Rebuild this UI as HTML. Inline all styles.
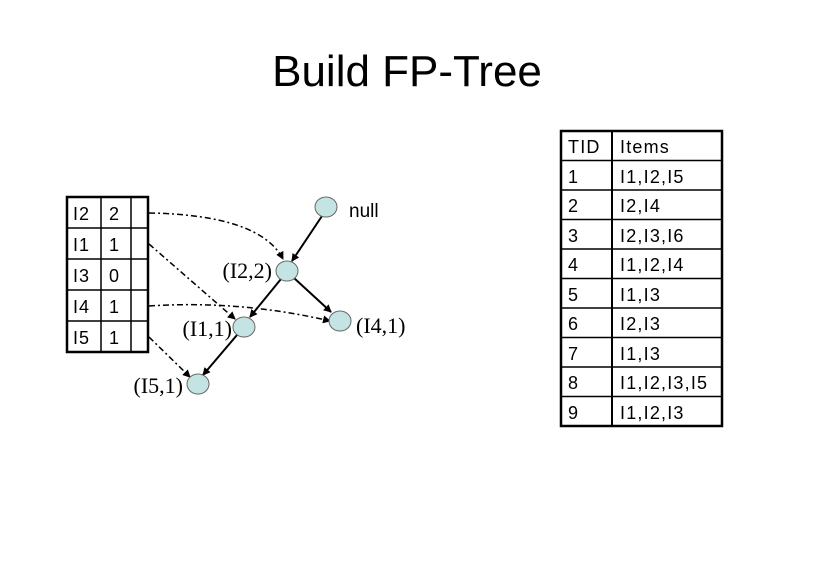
<!DOCTYPE html>
<html><head><meta charset="utf-8"><style>
body{margin:0;width:813px;height:566px;background:#fff;overflow:hidden}
svg{position:absolute;left:0;top:0}
</style></head><body>
<svg width="813" height="566" xmlns="http://www.w3.org/2000/svg" font-family="Liberation Sans, sans-serif">
<defs><marker id="a" markerWidth="8" markerHeight="8" refX="7" refY="4" orient="auto" markerUnits="userSpaceOnUse"><path d="M0,0 L8,4 L0,8 z" fill="#000"/></marker></defs>
<text x="407" y="86" font-size="44" text-anchor="middle">Build FP-Tree</text>
<g stroke="#000" fill="none">
<rect x="561" y="131" width="161" height="295" stroke-width="2.5"/>
<line x1="612" y1="131" x2="612" y2="426" stroke-width="2"/>
<g stroke-width="1.5">
<line x1="561" y1="160.5" x2="722" y2="160.5"/><line x1="561" y1="190" x2="722" y2="190"/>
<line x1="561" y1="219.5" x2="722" y2="219.5"/><line x1="561" y1="249" x2="722" y2="249"/>
<line x1="561" y1="278.5" x2="722" y2="278.5"/><line x1="561" y1="308" x2="722" y2="308"/>
<line x1="561" y1="337.5" x2="722" y2="337.5"/><line x1="561" y1="367" x2="722" y2="367"/>
<line x1="561" y1="396.5" x2="722" y2="396.5"/></g>
</g>
<g font-size="18" letter-spacing="1.2">
<text x="568" y="153">TID</text><text x="620" y="153">Items</text>
<text x="568" y="183">1</text><text x="620" y="183">I1,I2,I5</text>
<text x="568" y="212">2</text><text x="620" y="212">I2,I4</text>
<text x="568" y="242">3</text><text x="620" y="242">I2,I3,I6</text>
<text x="568" y="271">4</text><text x="620" y="271">I1,I2,I4</text>
<text x="568" y="301">5</text><text x="620" y="301">I1,I3</text>
<text x="568" y="330">6</text><text x="620" y="330">I2,I3</text>
<text x="568" y="360">7</text><text x="620" y="360">I1,I3</text>
<text x="568" y="389">8</text><text x="620" y="389">I1,I2,I3,I5</text>
<text x="568" y="419">9</text><text x="620" y="419">I1,I2,I3</text>
</g>
<g stroke="#000" fill="none">
<rect x="67" y="197" width="81" height="155" stroke-width="2.5"/>
<line x1="101" y1="197" x2="101" y2="352" stroke-width="1.5"/>
<line x1="131" y1="197" x2="131" y2="352" stroke-width="1.5"/>
<g stroke-width="1.5"><line x1="67" y1="228" x2="148" y2="228"/><line x1="67" y1="259" x2="148" y2="259"/><line x1="67" y1="290" x2="148" y2="290"/><line x1="67" y1="321" x2="148" y2="321"/></g>
</g>
<g font-size="18" letter-spacing="1">
<text x="73" y="220">I2</text><text x="109" y="220">2</text>
<text x="73" y="251">I1</text><text x="109" y="251">1</text>
<text x="73" y="282">I3</text><text x="109" y="282">0</text>
<text x="73" y="313">I4</text><text x="109" y="313">1</text>
<text x="73" y="344">I5</text><text x="109" y="344">1</text>
</g>
<g stroke="#000" fill="none" stroke-width="1.5" stroke-dasharray="6,3,2,3" marker-end="url(#a)">
<path d="M149,213 Q260,215 283,259"/>
<path d="M149,244 L235,319"/>
<path d="M149,306 Q240,300 330,321"/>
<path d="M149,337 L190,377"/>
</g>
<g stroke="#000" stroke-width="2" marker-end="url(#a)">
<line x1="322" y1="216" x2="292" y2="261"/>
<line x1="281" y1="279" x2="250" y2="317"/>
<line x1="294" y1="278" x2="331" y2="312"/>
<line x1="237" y1="335" x2="203" y2="375"/>
</g>
<g fill="#c4e3e3" stroke="#666" stroke-width="1">
<ellipse cx="326" cy="207" rx="11" ry="10"/>
<ellipse cx="287" cy="271" rx="11" ry="10"/>
<ellipse cx="244" cy="327" rx="11" ry="10"/>
<ellipse cx="340" cy="321" rx="11" ry="10"/>
<ellipse cx="198" cy="384" rx="11" ry="10"/>
</g>
<text x="349" y="217" font-size="19">null</text>
<g font-family="Liberation Serif, serif" font-size="22">
<text x="272" y="278" text-anchor="end">(I2,2)</text>
<text x="232" y="336" text-anchor="end">(I1,1)</text>
<text x="356" y="333">(I4,1)</text>
<text x="183" y="393" text-anchor="end">(I5,1)</text>
</g>
</svg>
</body></html>
